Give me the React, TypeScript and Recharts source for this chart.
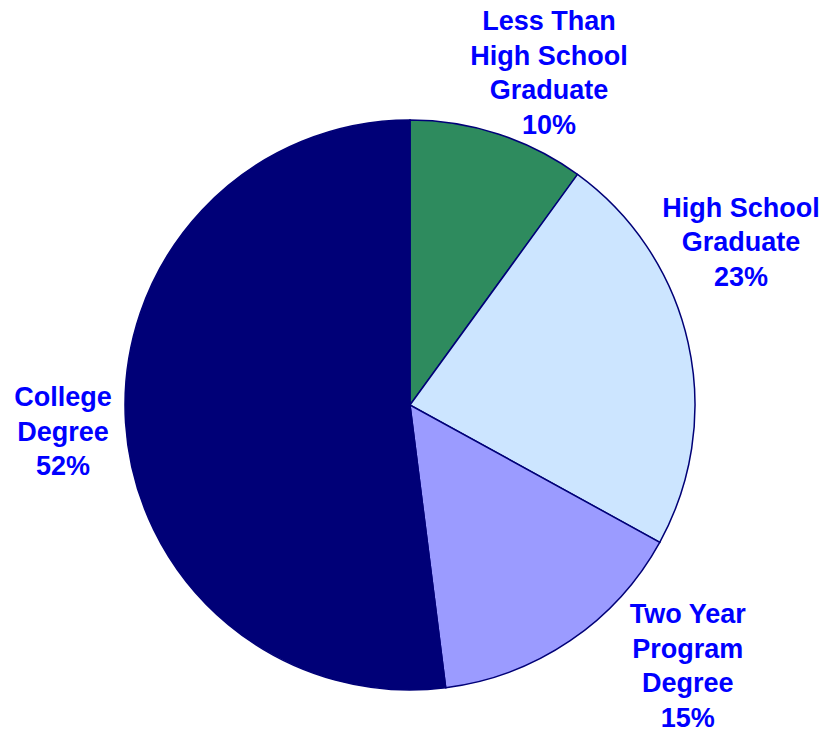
import { PieChart, Pie, Cell } from 'recharts'

const CATEGORIES = [
  'Less Than\nHigh School\nGraduate',
  'High School\nGraduate',
  'Two Year\nProgram\nDegree',
  'College\nDegree',
]
const SHARES = [10, 23, 15, 52]

const SLICE_COLORS = ['#2e8b5e', '#cce5ff', '#9b9bff', '#000077']
// label placement tweaks: angle shift (deg, clockwise) and distance from centre
const LABEL_SHIFT = [4.7, -13.6, -12.6, -0.8]
const LABEL_DIST = [360, 369, 381, 348]

const LINE_H = 34.5
const RAD = Math.PI / 180

interface LabelProps {
  cx?: number
  cy?: number
  midAngle?: number
  index?: number
  percent?: number
}

function SliceLabel({ cx = 0, cy = 0, midAngle = 0, index = 0, percent = 0 }: LabelProps) {
  const fromTop = 90 - midAngle + LABEL_SHIFT[index]
  const r = LABEL_DIST[index]
  const x = cx + r * Math.sin(fromTop * RAD)
  const y = cy - r * Math.cos(fromTop * RAD)
  const lines = [...CATEGORIES[index].split('\n'), `${Math.round(percent * 100)}%`]
  const top = y - ((lines.length - 1) * LINE_H) / 2

  return (
    <text
      x={x}
      y={top}
      textAnchor="middle"
      dominantBaseline="central"
      fill="#0000ff"
      fontFamily="'Liberation Sans', Arial, sans-serif"
      fontWeight="bold"
      fontSize={27}
    >
      {lines.map((line, i) => (
        <tspan key={i} x={x} y={top + i * LINE_H}>
          {line}
        </tspan>
      ))}
    </text>
  )
}

export default function App() {
  const data = CATEGORIES.map((name, i) => ({ name, value: SHARES[i] }))

  return (
    <div style={{ position: 'absolute', left: 0, top: 0, width: 823, height: 732, background: '#fff' }}>
      <PieChart width={823} height={732} margin={{ top: 0, right: 0, bottom: 0, left: 0 }}>
        <Pie
          data={data}
          dataKey="value"
          cx={410}
          cy={405}
          outerRadius={285}
          startAngle={90}
          endAngle={-270}
          stroke="#000077"
          strokeWidth={1.5}
          label={SliceLabel}
          labelLine={false}
          isAnimationActive={false}
        >
          {data.map((d, i) => (
            <Cell key={d.name} fill={SLICE_COLORS[i]} />
          ))}
        </Pie>
      </PieChart>
    </div>
  )
}
